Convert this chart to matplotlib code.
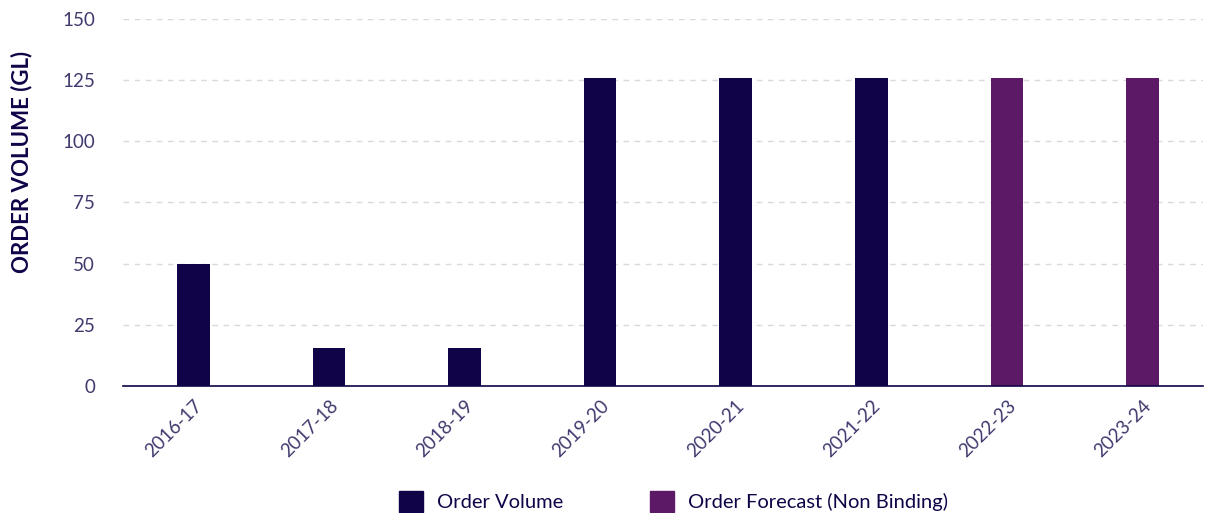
import matplotlib.pyplot as plt
from matplotlib.patches import Patch
from matplotlib.transforms import ScaledTranslation

years = ["2016-17", "2017-18", "2018-19", "2019-20", "2020-21", "2021-22", "2022-23", "2023-24"]
volumes = [50, 15.5, 15.5, 126, 126, 126, 126, 126]
is_forecast = [False, False, False, False, False, False, True, True]

navy = "#110347"
purple = "#5c1a66"
text_col = "#3f3a6e"

plt.rcParams["font.family"] = ["Lato", "DejaVu Sans"]

fig = plt.figure(figsize=(12.18, 5.13), dpi=100)
ax = fig.add_axes([0.101, 0.2476, 0.887, 0.7154])

colors = [purple if f else navy for f in is_forecast]
x = list(range(len(years)))
ax.bar(x, volumes, width=0.24, color=colors, zorder=3)

ax.set_xlim(-0.52, 7.45)
ax.set_ylim(0, 150)
ax.set_yticks([0, 25, 50, 75, 100, 125, 150])
ax.set_xticks(x)
ax.set_xticklabels(years, rotation=45, ha="right", rotation_mode="anchor")
for lab in ax.get_xticklabels():
    lab.set_transform(lab.get_transform() + ScaledTranslation(0.1, 0, fig.dpi_scale_trans))

ax.grid(axis="y", color="#d9d9d9", linestyle=(0, (4, 4)), linewidth=1, zorder=0)
for s in ["top", "right", "left"]:
    ax.spines[s].set_visible(False)
ax.spines["bottom"].set_color(navy)
ax.spines["bottom"].set_linewidth(1.2)
ax.spines["bottom"].set_zorder(4)

ax.tick_params(axis="both", length=0, labelcolor=text_col, labelsize=13.5)
ax.tick_params(axis="y", pad=20)
ax.tick_params(axis="x", pad=8)

fig.text(0.018, 0.685, "ORDER VOLUME (GL)", rotation=90, ha="center", va="center",
         color=navy, fontsize=16, fontweight="bold")

handles = [Patch(color=navy, label="Order Volume"), Patch(color=purple, label="Order Forecast (Non Binding)")]
leg = fig.legend(handles=handles, loc="center", bbox_to_anchor=(0.553, 0.023), ncol=2, frameon=False,
                 fontsize=14.5, handlelength=1.2, handleheight=1.2, columnspacing=4.3, handletextpad=0.7)
for t in leg.get_texts():
    t.set_color(navy)

fig.savefig("out.png", dpi=100)
